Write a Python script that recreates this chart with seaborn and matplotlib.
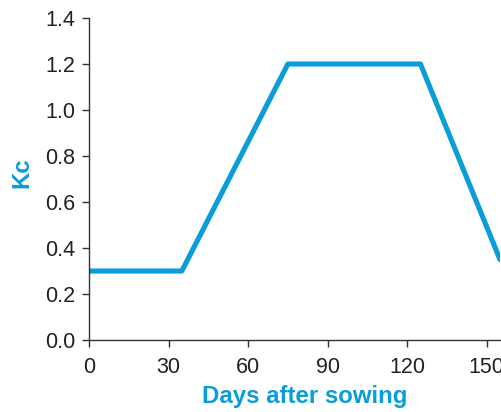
import matplotlib
matplotlib.use("Agg")
import matplotlib.pyplot as plt
import seaborn as sns
import pandas as pd

days = [0, 35, 75, 125, 155]
kc = [0.3, 0.3, 1.2, 1.2, 0.35]
x_ticks = [0, 30, 60, 90, 120, 150]
y_ticks = [0.0, 0.2, 0.4, 0.6, 0.8, 1.0, 1.2, 1.4]

sns.set_style("ticks")
plt.rcParams['font.family'] = ['Liberation Sans', 'DejaVu Sans']

df = pd.DataFrame({"Days after sowing": days, "Kc": kc})
blue = "#0a9dd9"

fig = plt.figure(figsize=(5.02, 4.12), dpi=100)
ax = fig.add_axes([89/502, 1 - 340/412, (500 - 89)/502, (340 - 18)/412])
sns.lineplot(data=df, x="Days after sowing", y="Kc", ax=ax, color=blue,
             linewidth=3.7, clip_on=True)
ax.set_xlim(0, 155)
ax.set_ylim(0, 1.4)
ax.set_xticks(x_ticks)
ax.set_yticks(y_ticks)
ax.set_yticklabels([f"{v:.1f}" for v in y_ticks])
sns.despine(ax=ax)
for s in ["left", "bottom"]:
    ax.spines[s].set_color("#333333")
    ax.spines[s].set_linewidth(1.0)
ax.tick_params(axis="both", direction="out", length=5, width=1.0,
               colors="#333333", labelsize=15.5, labelcolor="#222222", pad=5)
ax.tick_params(axis="x", pad=7)
ax.set_xlabel("Days after sowing", fontsize=17.3, fontweight="bold",
              color=blue)
ax.set_ylabel("Kc", fontsize=17.3, fontweight="bold", color=blue)
ax.xaxis.set_label_coords((305 - 89) / 411, -(385 - 340) / 322)
ax.yaxis.set_label_coords(-(89 - 33) / 411, (340 - 173) / 322)
fig.savefig("out.png", dpi=100)
